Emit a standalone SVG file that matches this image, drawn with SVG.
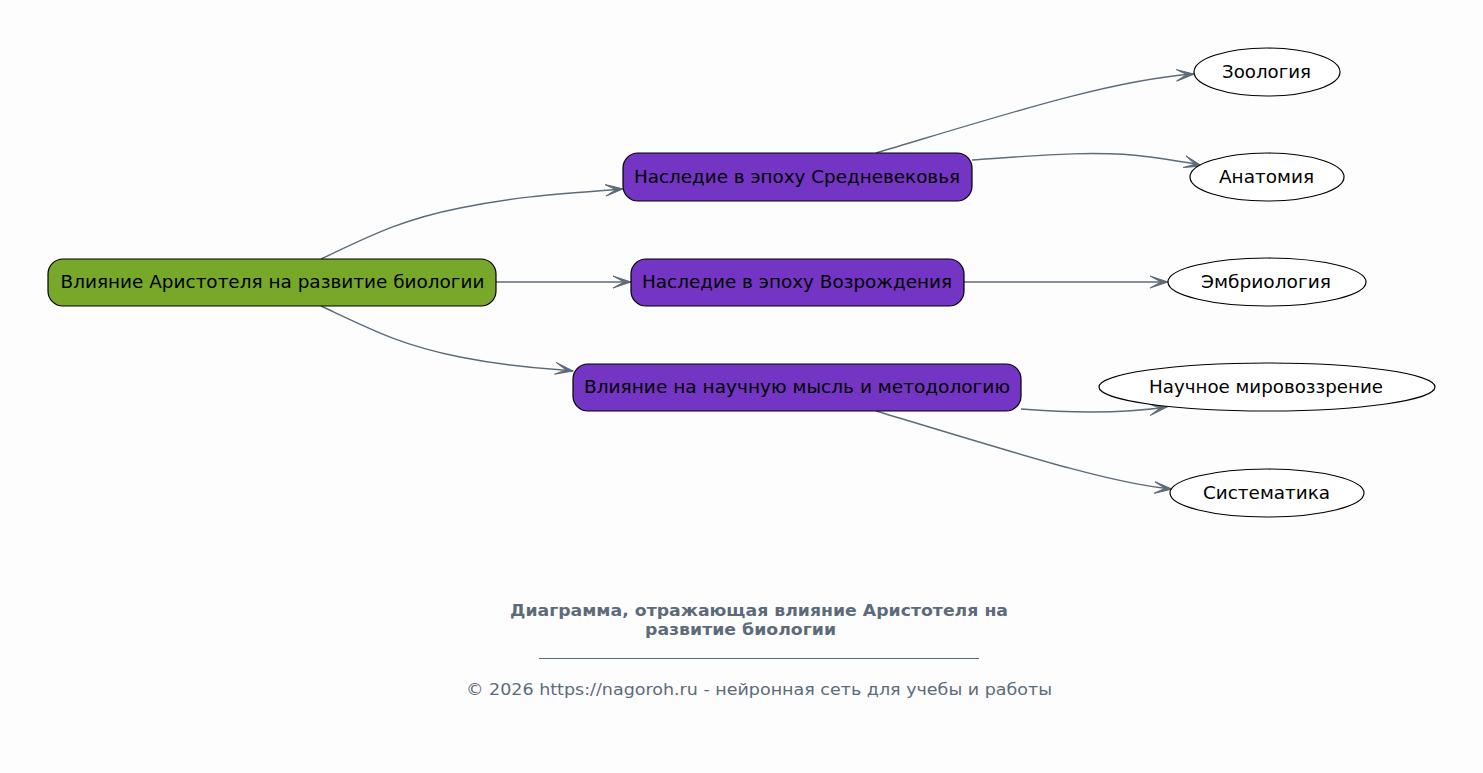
<svg xmlns="http://www.w3.org/2000/svg" width="1483" height="773" viewBox="0 0 1483 773">
<defs>
<style>
text{font-family:"DejaVu Sans",Verdana,sans-serif;}
.n{font-size:17.5px;fill:#000;text-anchor:middle;dominant-baseline:central;}
.root{fill:#77a82a;stroke:#000;stroke-width:1.2;}
.mid{fill:#7434c4;stroke:#000;stroke-width:1.2;}
.leaf{fill:#fff;stroke:#000;stroke-width:1.2;}
.e{fill:none;stroke:#5c6b7a;stroke-width:1.4;marker-end:url(#v);}
.t{font-size:16px;font-weight:bold;fill:#5c6b7a;}
.f{font-size:16.5px;fill:#5c6b7a;}
</style>
<marker id="v" markerUnits="userSpaceOnUse" markerWidth="20" markerHeight="14" refX="18" refY="7" orient="auto" viewBox="0 0 20 14">
<path d="M0,1 L18,7 L0,13 L11,7 z" fill="#5c6b7a" stroke="#5c6b7a" stroke-width="1"/>
</marker>
</defs>
<rect width="1483" height="773" fill="#fdfdfd"/>
<g id="edges">
<path class="e" d="M321,259 C370,236 400,220 460,208 S560,194 623,189"/>
<path class="e" d="M496,282 L631,282"/>
<path class="e" d="M321,306 C370,329 400,345 460,357 S560,369 573,371"/>
<path class="e" d="M876,153 C1000,116 1110,80 1194,74"/>
<path class="e" d="M972,160 C1040,155 1100,150 1150,157 S1190,163 1202,166"/>
<path class="e" d="M964,282 L1168,282"/>
<path class="e" d="M1021,409 C1070,413 1120,414 1167,407"/>
<path class="e" d="M876,411 C1000,448 1110,484 1172,489"/>
</g>
<g id="root"><rect class="root" x="48" y="259" width="448" height="47" rx="15"/><text class="n" x="272.5" y="282" textLength="424" lengthAdjust="spacingAndGlyphs">Влияние Аристотеля на развитие биологии</text></g>
<g id="medieval"><rect class="mid" x="623" y="153" width="349" height="48" rx="15"/><text class="n" x="797" y="177" textLength="326" lengthAdjust="spacingAndGlyphs">Наследие в эпоху Средневековья</text></g>
<g id="renaissance"><rect class="mid" x="631" y="259" width="333" height="47" rx="15"/><text class="n" x="797" y="282" textLength="310" lengthAdjust="spacingAndGlyphs">Наследие в эпоху Возрождения</text></g>
<g id="method"><rect class="mid" x="573" y="364" width="448" height="47" rx="15"/><text class="n" x="797" y="387" textLength="426" lengthAdjust="spacingAndGlyphs">Влияние на научную мысль и методологию</text></g>
<g id="zoology"><ellipse class="leaf" cx="1267" cy="72" rx="73" ry="24"/><text class="n" x="1266.5" y="72" textLength="89" lengthAdjust="spacingAndGlyphs">Зоология</text></g>
<g id="anatomy"><ellipse class="leaf" cx="1267" cy="177" rx="77" ry="24"/><text class="n" x="1266.5" y="177" textLength="95" lengthAdjust="spacingAndGlyphs">Анатомия</text></g>
<g id="embryology"><ellipse class="leaf" cx="1267" cy="282" rx="99" ry="24"/><text class="n" x="1266" y="282" textLength="130" lengthAdjust="spacingAndGlyphs">Эмбриология</text></g>
<g id="worldview"><ellipse class="leaf" cx="1267" cy="387" rx="168" ry="24"/><text class="n" x="1266" y="387" textLength="234" lengthAdjust="spacingAndGlyphs">Научное мировоззрение</text></g>
<g id="systematics"><ellipse class="leaf" cx="1267" cy="493" rx="97" ry="24"/><text class="n" x="1266.5" y="493" textLength="127" lengthAdjust="spacingAndGlyphs">Систематика</text></g>
<g id="title">
<text class="t" x="510" y="616" textLength="498" lengthAdjust="spacingAndGlyphs">Диаграмма, отражающая влияние Аристотеля на</text>
<text class="t" x="645" y="635" textLength="191" lengthAdjust="spacingAndGlyphs">развитие биологии</text>
<line x1="539" y1="658.5" x2="979" y2="658.5" stroke="#5c6b7a" stroke-width="1"/>
<text class="f" x="466" y="695" textLength="586" lengthAdjust="spacingAndGlyphs">© 2026 https://nagoroh.ru - нейронная сеть для учебы и работы</text>
</g>
</svg>
